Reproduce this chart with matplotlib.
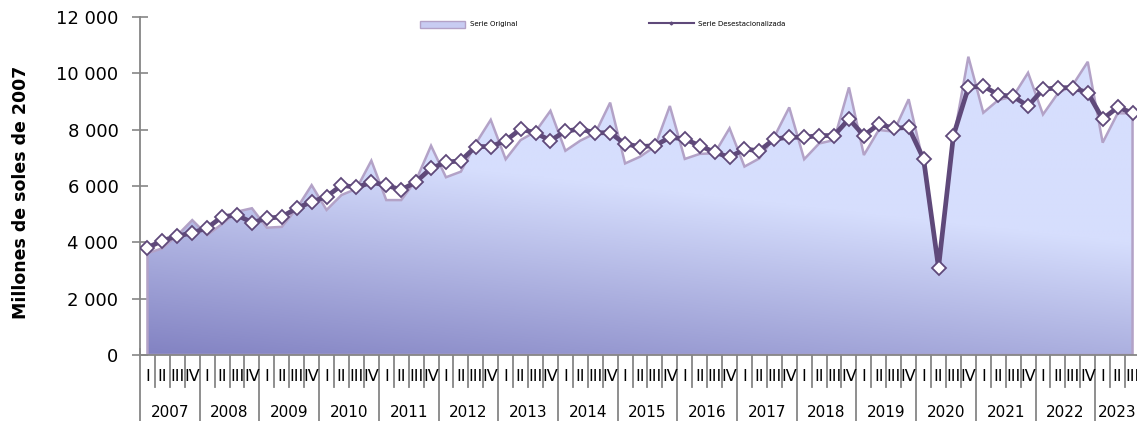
import numpy as np
import matplotlib
matplotlib.use("Agg")
import matplotlib.pyplot as plt
from matplotlib.patches import Polygon, Patch
from matplotlib.lines import Line2D
from matplotlib.colors import LinearSegmentedColormap
import matplotlib.transforms as mtransforms

years = list(range(2007, 2024))
quarter_names = ["I", "II", "III", "IV"]
n_quarters_last = 3  # 2023 only up to III

original = [3610, 3790, 4250, 4790, 4260, 4650, 5090, 5210, 4520, 4550, 5200, 6030,
            5150, 5680, 5900, 6900, 5500, 5500, 6210, 7430, 6310, 6510, 7510, 8350,
            6950, 7630, 7930, 8670, 7250, 7610, 7870, 8960, 6800, 7040, 7400, 8840,
            6960, 7140, 7160, 8050, 6690, 6980, 7750, 8790, 6950, 7510, 7630, 9500,
            7100, 7990, 7930, 9080, 6800, 3050, 7630, 10590, 8600, 9050, 9180, 10020,
            8540, 9290, 9590, 10410, 7540, 8580, 8580]
deseason = [3810, 4060, 4220, 4340, 4510, 4910, 4970, 4700, 4850, 4910, 5210, 5440,
            5620, 6030, 5950, 6130, 6030, 5860, 6150, 6630, 6840, 6900, 7400, 7400,
            7610, 8020, 7890, 7610, 7950, 8020, 7890, 7890, 7490, 7400, 7430, 7730,
            7670, 7430, 7200, 7020, 7310, 7250, 7670, 7730, 7730, 7790, 7790, 8380,
            7790, 8200, 8050, 8080, 6960, 3100, 7790, 9500, 9550, 9240, 9180, 8840,
            9430, 9490, 9490, 9310, 8380, 8790, 8600]

x = np.arange(len(original))
q_labels = [quarter_names[i % 4] for i in x]

fig = plt.figure(figsize=(11.37, 4.21), dpi=100)
ax = fig.add_axes([140 / 1137, 66 / 421, 1000 / 1137, 338 / 421])
ax.set_xlim(-0.5, 66.5)
ax.set_ylim(0, 12000)

axis_grey = "#868686"
light_line = "#b3a2c7"
dark_line = "#5f497a"

# gradient fill under the original series
cmap = LinearSegmentedColormap.from_list("fill", ["#8282c2", "#d6defd"])
gx, gy = np.meshgrid(np.linspace(0, 1, 400), np.linspace(0, 1, 300))
grad = np.clip((gy + 0.33 * gx) / 0.66, 0, 1)
im = ax.imshow(grad, cmap=cmap, extent=[0, 1, 0, 1], transform=ax.transAxes,
               origin="lower", aspect="auto", zorder=1, interpolation="bilinear")
verts = np.column_stack([np.r_[x, x[::-1]], np.r_[original, np.zeros(len(x))]])
area = Polygon(verts, closed=True, facecolor="none", edgecolor=light_line, lw=1.8,
               transform=ax.transData, zorder=2)
ax.add_patch(area)
im.set_clip_path(area)

ax.plot(x, deseason, color=dark_line, lw=3.4, marker="D", ms=7,
        mfc="white", mec=dark_line, mew=1.3, zorder=3)

# axes styling
for s in ["top", "right"]:
    ax.spines[s].set_visible(False)
for s in ["left", "bottom"]:
    ax.spines[s].set_color(axis_grey)
    ax.spines[s].set_linewidth(1.3)
ax.set_yticks(np.arange(0, 12001, 2000))
ax.set_yticklabels([f"{v:,}".replace(",", " ") for v in range(0, 12001, 2000)])
ax.tick_params(axis="y", direction="inout", length=11, width=1.2, color=axis_grey,
               labelsize=13, pad=10)
ax.set_xticks([])
ax.set_ylabel("Millones de soles de 2007", fontsize=12.5, fontweight="bold")
ax.yaxis.set_label_coords(-0.11, 0.48)

# category axis: quarter and year ticks/labels
trans = mtransforms.blended_transform_factory(ax.transData, ax.transAxes)
bounds = np.arange(-0.5, len(x) + 0.5, 1.0)
for b in bounds:
    is_year = int(b + 0.5) % 4 == 0
    ax.plot([b, b], [0.018, -0.195 if is_year else -0.095], transform=trans,
            color=axis_grey, lw=1.3, clip_on=False, zorder=0)
for i in x:
    ax.text(i, -0.065, q_labels[i], transform=trans, ha="center", va="center",
            fontsize=11.5)
for k, yr in enumerate(years):
    n = 4 if yr != years[-1] else n_quarters_last
    ax.text(4 * k + (n - 1) / 2, -0.17, str(yr), transform=trans, ha="center",
            va="center", fontsize=11)

handles = [Patch(facecolor="#c8ccf2", edgecolor=light_line, lw=1),
           Line2D([], [], color=dark_line, lw=1.5, marker="D", ms=1.5)]
ax.legend(handles, ["Serie Original", "Serie Desestacionalizada"], ncol=2,
          loc="center left", bbox_to_anchor=(0.274, 0.979), frameon=False,
          fontsize=5, handlelength=6.5, handleheight=1.2, handletextpad=0.6,
          columnspacing=19)

fig.savefig("out.png", dpi=100)
